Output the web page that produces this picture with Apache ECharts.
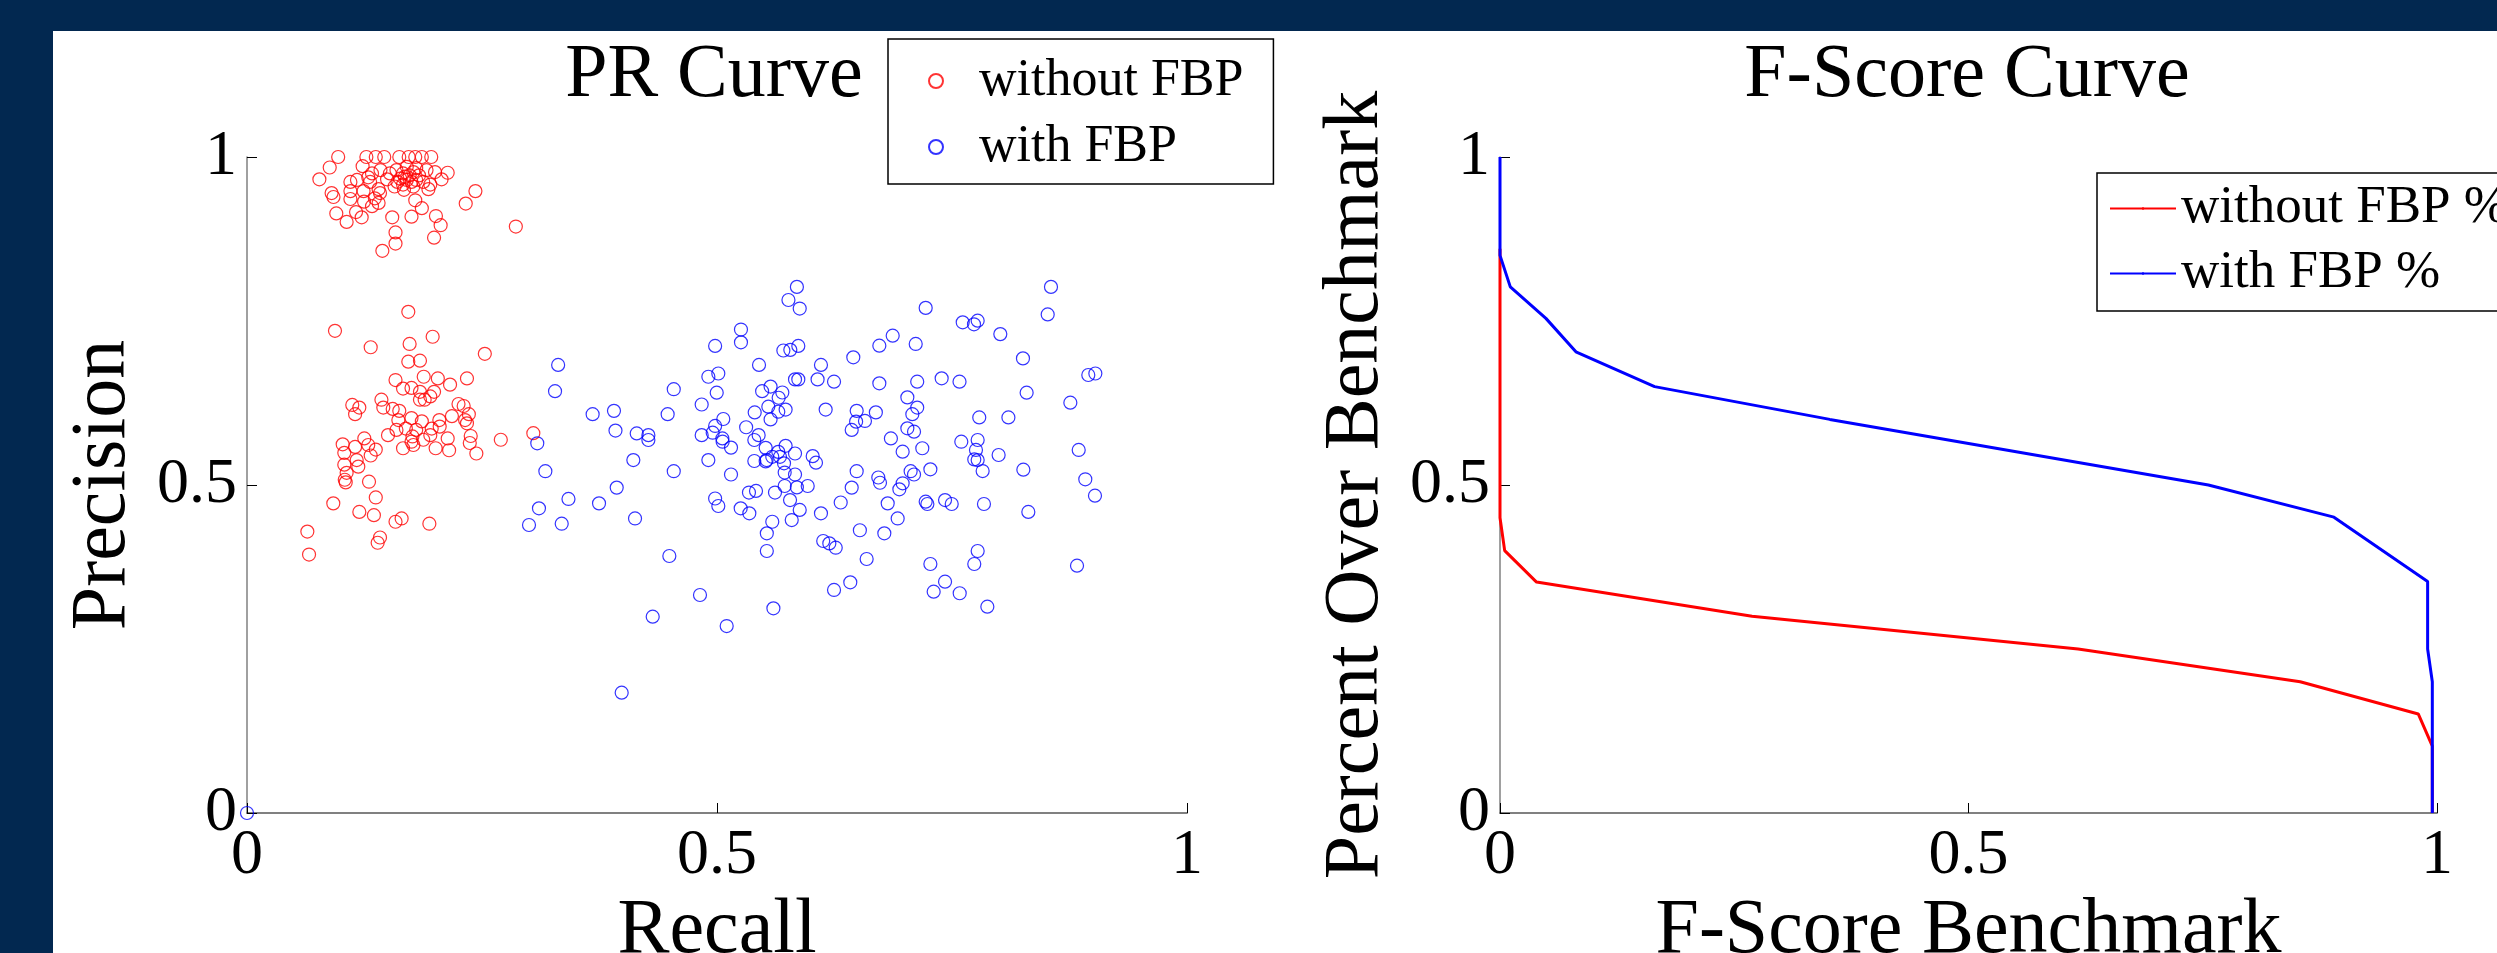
<!DOCTYPE html>
<html>
<head>
<meta charset="utf-8">
<script src="https://cdn.jsdelivr.net/npm/echarts@6/dist/echarts.min.js"></script>
<style>
  html, body { margin: 0; padding: 0; width: 2497px; height: 953px; background: #022850; overflow: hidden; }
  #panel { position: absolute; left: 53px; top: 31px; right: 0; bottom: 0; background: #ffffff; }
  #chart { position: absolute; left: 0; top: 0; width: 2497px; height: 953px; }
</style>
</head>
<body>
<div id="panel"></div>
<div id="chart"></div>
<script>
// ---- PR scatter: [recall, precision] ----
const withoutFbpPR = [
  [0.097,1.0],[0.088,0.984],[0.077,0.966],[0.127,1.0],[0.137,1.0],[0.146,1.0],[0.162,1.0],[0.172,1.0],[0.179,1.0],[0.186,1.0],[0.196,1.0],
  [0.123,0.986],[0.142,0.98],[0.159,0.98],[0.170,0.985],[0.180,0.983],[0.191,0.98],[0.200,0.977],[0.2135,0.976],[0.207,0.966],
  [0.166,0.975],[0.173,0.972],[0.177,0.977],[0.152,0.975],[0.149,0.966],[0.133,0.975],[0.129,0.969],[0.131,0.962],[0.110,0.962],[0.117,0.965],
  [0.157,0.955],[0.166,0.958],[0.170,0.965],[0.180,0.965],[0.1875,0.962],[0.195,0.958],[0.177,0.955],[0.193,0.951],[0.167,0.950],[0.140,0.951],
  [0.1415,0.945],[0.124,0.948],[0.110,0.948],[0.090,0.945],[0.092,0.939],[0.110,0.936],[0.1245,0.932],[0.136,0.937],[0.140,0.930],[0.133,0.925],
  [0.095,0.914],[0.106,0.901],[0.116,0.916],[0.122,0.908],[0.1545,0.908],[0.179,0.934],[0.186,0.922],[0.175,0.909],[0.201,0.910],[0.206,0.896],
  [0.199,0.877],[0.158,0.885],[0.158,0.868],[0.144,0.857],[0.2327,0.929],[0.243,0.948],[0.286,0.894],[0.163,0.967],
  [0.168,0.970],[0.175,0.962],[0.183,0.972],[0.160,0.962],
  [0.1716,0.764],[0.0936,0.735],[0.1975,0.726],
  [0.1316,0.710],[0.173,0.715],[0.253,0.700],[0.1716,0.688],[0.184,0.6895],[0.158,0.660],[0.188,0.665],[0.203,0.6625],[0.234,0.6625],
  [0.216,0.653],[0.166,0.647],[0.175,0.648],[0.184,0.642],[0.199,0.642],[0.195,0.635],[0.184,0.630],[0.189,0.630],[0.143,0.630],
  [0.145,0.618],[0.155,0.616],[0.162,0.613],[0.112,0.622],[0.1195,0.618],[0.115,0.608],[0.225,0.6235],[0.2305,0.6204],[0.236,0.608],
  [0.218,0.605],[0.232,0.599],[0.234,0.594],[0.2046,0.599],[0.205,0.589],[0.161,0.599],[0.175,0.602],[0.186,0.597],[0.1965,0.586],
  [0.159,0.584],[0.169,0.586],[0.150,0.576],[0.180,0.584],[0.176,0.574],[0.175,0.566],[0.177,0.561],[0.1875,0.569],[0.195,0.576],
  [0.2135,0.571],[0.238,0.5747],[0.237,0.564],[0.244,0.548],[0.270,0.569],[0.166,0.556],[0.2007,0.556],[0.215,0.553],[0.3046,0.579],
  [0.1248,0.571],[0.1018,0.562],[0.115,0.558],[0.129,0.561],[0.137,0.554],[0.1316,0.545],[0.1035,0.549],[0.1035,0.531],[0.1184,0.528],
  [0.1167,0.538],[0.106,0.5186],[0.104,0.508],[0.105,0.504],[0.1298,0.505],[0.137,0.481],[0.0918,0.472],[0.1195,0.459],[0.135,0.454],
  [0.158,0.444],[0.1645,0.449],[0.194,0.441],[0.0642,0.429],[0.1415,0.420],[0.139,0.412],[0.066,0.394]
];
const withFbpPR = [
  [0,0],
  [0.585,0.802],[0.576,0.782],[0.588,0.769],[0.5255,0.737],[0.5255,0.7175],[0.498,0.712],[0.5706,0.705],[0.578,0.706],[0.5865,0.712],
  [0.331,0.683],[0.3277,0.643],[0.5447,0.683],[0.6106,0.683],[0.645,0.6946],[0.4908,0.665],[0.5014,0.670],[0.583,0.661],[0.5865,0.661],
  [0.607,0.661],[0.6245,0.6575],[0.454,0.646],[0.4997,0.6407],[0.548,0.643],[0.557,0.650],[0.5695,0.641],[0.5656,0.633],[0.4837,0.6227],
  [0.3677,0.608],[0.3904,0.613],[0.4475,0.608],[0.5401,0.6106],[0.5546,0.6194],[0.5652,0.6117],[0.573,0.615],[0.557,0.600],[0.6156,0.615],
  [0.6486,0.613],[0.5067,0.6006],[0.498,0.590],[0.4954,0.5797],[0.4837,0.576],[0.5057,0.571],[0.506,0.566],[0.5149,0.557],[0.531,0.588],
  [0.5397,0.5686],[0.5443,0.576],[0.5518,0.5566],[0.573,0.5597],[0.5652,0.5505],[0.567,0.543],[0.583,0.548],[0.5588,0.543],[0.5528,0.538],
  [0.5397,0.5366],[0.5518,0.536],[0.5713,0.533],[0.6018,0.544],[0.6053,0.534],[0.6486,0.521],[0.4146,0.5786],[0.427,0.576],[0.427,0.5686],
  [0.392,0.583],[0.3088,0.5636],[0.411,0.538],[0.4908,0.538],[0.454,0.521],[0.3174,0.521],[0.5149,0.516],[0.572,0.519],[0.583,0.516],
  [0.3933,0.496],[0.342,0.4787],[0.3745,0.472],[0.3106,0.4644],[0.300,0.439],[0.3348,0.441],[0.4128,0.449],[0.498,0.4794],[0.5014,0.468],
  [0.534,0.4885],[0.5415,0.491],[0.5252,0.4644],[0.5344,0.4568],[0.5617,0.4885],[0.572,0.4985],[0.585,0.4964],[0.5965,0.4985],[0.5777,0.477],
  [0.588,0.462],[0.5795,0.4466],[0.5588,0.444],[0.553,0.4263],[0.553,0.3994],[0.6106,0.4568],[0.6316,0.4733],[0.6433,0.496],[0.652,0.431],
  [0.613,0.4146],[0.6195,0.411],[0.6263,0.4044],[0.4493,0.3918],[0.4819,0.3323],[0.4316,0.2993],[0.5103,0.285],[0.560,0.312],[0.6245,0.340],
  [0.6418,0.3516],[0.3986,0.1834],[0.6433,0.584],[0.648,0.5966],[0.6574,0.5976],
  [0.8553,0.802],[0.8518,0.760],[0.722,0.770],[0.7614,0.748],[0.7734,0.745],[0.7773,0.7505],[0.8014,0.730],[0.6869,0.7276],[0.6727,0.7124],
  [0.7114,0.715],[0.8255,0.693],[0.895,0.6677],[0.9025,0.670],[0.6727,0.655],[0.713,0.6575],[0.739,0.6626],[0.758,0.6575],[0.8294,0.6407],
  [0.8759,0.6255],[0.7025,0.6336],[0.713,0.618],[0.7078,0.608],[0.669,0.6107],[0.779,0.603],[0.810,0.603],[0.7025,0.5864],[0.7096,0.5813],
  [0.685,0.571],[0.6975,0.5508],[0.7184,0.556],[0.7599,0.566],[0.7773,0.5686],[0.7755,0.5534],[0.7737,0.539],[0.7773,0.538],[0.7826,0.5213],
  [0.7996,0.5457],[0.8259,0.5234],[0.8848,0.5534],[0.8918,0.5087],[0.9021,0.4837],[0.6716,0.5114],[0.6734,0.5034],[0.706,0.521],[0.7096,0.516],
  [0.727,0.5239],[0.6975,0.5026],[0.694,0.4934],[0.6816,0.472],[0.6922,0.449],[0.722,0.4746],[0.7238,0.471],[0.7426,0.477],[0.7497,0.471],
  [0.784,0.471],[0.8312,0.459],[0.678,0.4263],[0.6592,0.3872],[0.727,0.3796],[0.7773,0.3994],[0.7737,0.3796],[0.883,0.377],[0.7426,0.3526],
  [0.7305,0.3374],[0.7582,0.335],[0.7876,0.3145]
];

// ---- F-Score curves: [benchmark, percent over] ----
const withoutFbpScore = [
  [0,0.86],[0,0.45],[0.005,0.40],[0.039,0.352],[0.269,0.30],[0.617,0.25],[0.854,0.20],[0.98,0.151],[0.995,0.102],[0.995,0]
];
const withFbpScore = [
  [0,1.0],[0,0.85],[0.011,0.802],[0.049,0.754],[0.081,0.703],[0.165,0.65],[0.352,0.60],[0.756,0.50],[0.89,0.451],[0.99,0.353],[0.99,0.25],[0.995,0.2],[0.995,0]
];

const axisTicks = [0, 0.5, 1];
const titles = ['PR Curve', 'F-Score Curve'];
const axisNames = { prX: 'Recall', prY: 'Precision', fsX: 'F-Score Benchmark', fsY: 'Percent Over Benchmark' };

const FONT = 'Liberation Serif';
const chart = echarts.init(document.getElementById('chart'), null, { renderer: 'canvas' });

function valueAxis(name, gap, isY) {
  return {
    type: 'value', min: axisTicks[0], max: axisTicks[axisTicks.length - 1], interval: axisTicks[1] - axisTicks[0],
    name: name, nameLocation: 'middle', nameGap: gap,
    nameTextStyle: { fontFamily: FONT, fontSize: 78, color: '#000', lineHeight: 78 },
    axisLine: { show: true, onZero: false, lineStyle: { color: '#808080', width: isY ? 1.5 : 2 } },
    axisTick: { show: true, inside: true, length: 10, lineStyle: { color: '#000', width: 1 } },
    axisLabel: { fontFamily: FONT, fontSize: 64, color: '#000', margin: isY ? 10 : 11, lineHeight: 64 },
    splitLine: { show: false }
  };
}

const circleStyle = (c) => ({ color: 'rgba(0,0,0,0)', borderColor: c, borderWidth: 1.2 });

chart.setOption({
  backgroundColor: 'transparent',
  animation: false,
  title: [
    { text: titles[0], left: 714, top: 38, textAlign: 'center', padding: 0,
      textStyle: { fontFamily: FONT, fontSize: 76, fontWeight: 'normal', color: '#000', lineHeight: 76 } },
    { text: titles[1], left: 1967, top: 38, textAlign: 'center', padding: 0,
      textStyle: { fontFamily: FONT, fontSize: 76, fontWeight: 'normal', color: '#000', lineHeight: 76 } }
  ],
  legend: [
    { data: ['without FBP', 'with FBP'], orient: 'vertical', left: 888, top: 39,
      padding: [16, 30, 11, 40], itemGap: 14, itemWidth: 14, itemHeight: 14,
      backgroundColor: '#fff', borderColor: '#000', borderWidth: 1.5, borderRadius: 0,
      textStyle: { fontFamily: FONT, fontSize: 52, color: '#000', lineHeight: 52, padding: [0, 0, 0, 31] } },
    { data: ['without FBP %', 'with FBP %'],
      orient: 'vertical', left: 2097, top: 173,
      padding: [9, 20, 11, 12], itemGap: 12, itemWidth: 66, itemHeight: 3,
      backgroundColor: '#fff', borderColor: '#000', borderWidth: 1.5, borderRadius: 0,
      textStyle: { fontFamily: FONT, fontSize: 53, color: '#000', lineHeight: 52 } }
  ],
  grid: [
    { left: 247, top: 157, width: 940, height: 656, containLabel: false, outerBoundsMode: 'none' },
    { left: 1500, top: 157, width: 937, height: 656, containLabel: false, outerBoundsMode: 'none' }
  ],
  xAxis: [
    Object.assign(valueAxis(axisNames.prX, 70, false), { gridIndex: 0 }),
    Object.assign(valueAxis(axisNames.fsX, 70, false), { gridIndex: 1 })
  ],
  yAxis: [
    Object.assign(valueAxis(axisNames.prY, 104, true), { gridIndex: 0 }),
    Object.assign(valueAxis(axisNames.fsY, 104, true), { gridIndex: 1 })
  ],
  series: [
    { name: 'without FBP', type: 'scatter', xAxisIndex: 0, yAxisIndex: 0, data: withoutFbpPR,
      symbol: 'circle', symbolSize: 13, itemStyle: circleStyle('#ff0000'), clip: false },
    { name: 'with FBP', type: 'scatter', xAxisIndex: 0, yAxisIndex: 0, data: withFbpPR,
      symbol: 'circle', symbolSize: 13, itemStyle: circleStyle('#0000ff'), clip: false },
    { name: 'without FBP %', type: 'line', xAxisIndex: 1, yAxisIndex: 1, data: withoutFbpScore,
      symbol: 'none', showSymbol: false, clip: false, color: '#ff0000',
      lineStyle: { color: '#ff0000', width: 3 }, itemStyle: { color: '#ff0000' } },
    { name: 'with FBP %', type: 'line', xAxisIndex: 1, yAxisIndex: 1, data: withFbpScore,
      symbol: 'none', showSymbol: false, clip: false, color: '#0000ff',
      lineStyle: { color: '#0000ff', width: 3 }, itemStyle: { color: '#0000ff' } }
  ]
});
</script>
</body>
</html>
